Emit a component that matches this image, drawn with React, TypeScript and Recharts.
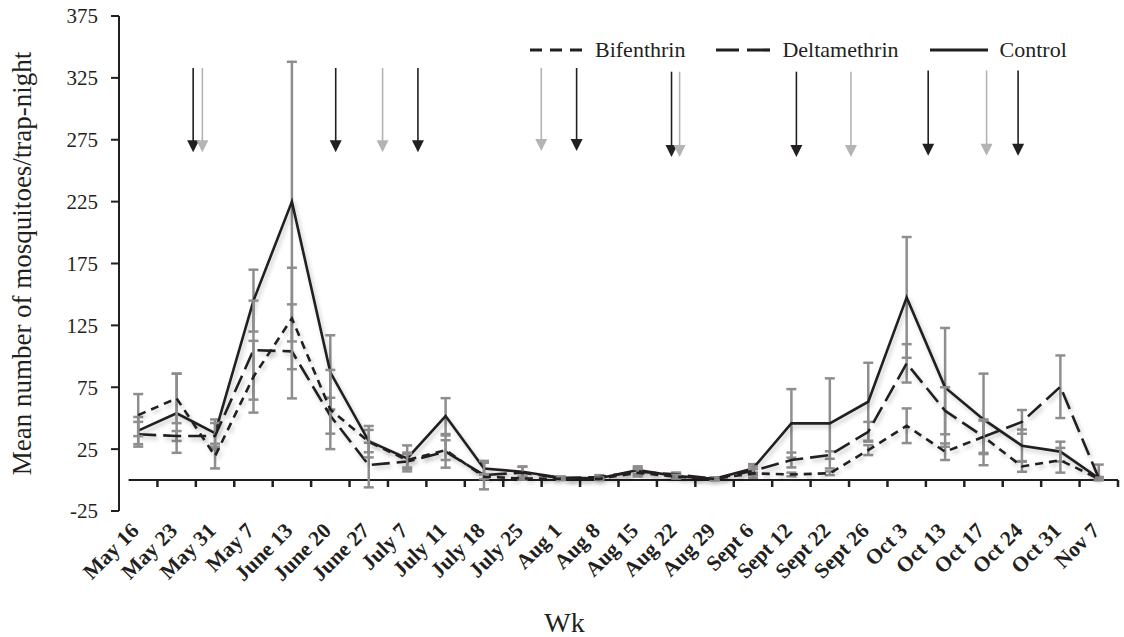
import React from "react";
import {
  LineChart,
  Line,
  XAxis,
  YAxis,
  ErrorBar,
  ReferenceLine,
  Legend,
  Label,
} from "recharts";

const SERIF = "'Liberation Serif', 'Times New Roman', Times, serif";
const INK = "#231f20";
const ERR_GREY = "#8e8e8e";
const ARROW_GREY = "#b4b4b4";

const weeks = [
  "May 16", "May 23", "May 31", "May 7", "June 13", "June 20", "June 27",
  "July 7", "July 11", "July 18", "July 25", "Aug 1", "Aug 8", "Aug 15",
  "Aug 22", "Aug 29", "Sept 6", "Sept 12", "Sept 22", "Sept 26", "Oct 3",
  "Oct 13", "Oct 17", "Oct 24", "Oct 31", "Nov 7",
];

const control = [40, 54, 38, 145, 225, 87, 31.5, 17.5, 51.7, 9.4, 6.7, 1.9, 1.5, 8.1, 3.2, 1, 9.4, 45.8, 45.8, 63.3, 147.6, 74.9, 49, 27.8, 23, 1.5];
const controlErr = [11, 32, 11, 25, 113, 30, 9, 10.5, 14.5, 4.6, 4, 1, 1, 3, 1.5, 1, 3.5, 27.7, 36.4, 31.5, 48.8, 48, 37, 13, 8, 1];

const bifenthrin = [52.5, 66, 19.4, 83.5, 130.6, 57, 31, 16.2, 24.2, 2.7, 1.3, 1, 1, 5.9, 2.7, 1, 5.4, 4.5, 5.5, 24.2, 43.9, 22.9, 35, 11, 16, 1];
const bifenthrinErr = [17, 20, 10, 29, 41, 32, 12.7, 6, 8, 2, 1, 1, 1, 3, 1.5, 1, 3.5, 1.5, 1.5, 4, 14, 6.7, 13, 4.3, 10, 1];

const deltamethrin = [37, 35.6, 35.6, 105, 104, 52, 12.1, 15, 23, 4, 6, 1.5, 2.5, 6.7, 4.6, 1, 7.5, 16.2, 20.2, 39, 94.3, 56, 35, 47, 75.4, 1.5];
const deltamethrinErr: (number | number[])[] = [10, 4, 10.5, 40, 38, 14.5, 18, 6, 13, 11.5, 5, 1, 1.5, 3, 1.5, 1, 3.5, 6, 3, 8, 15.5, 19, 14, 9.6, 25.3, [1.5, 11]];

// treatment arrows: position on the week axis, shade, top and tip values
const arrowAt = [1.43, 1.67, 5.14, 6.36, 7.28, 10.49, 11.41, 13.88, 14.09, 17.13, 18.55, 20.56, 22.08, 22.9];
const arrowShade = ["black", "grey", "black", "grey", "black", "grey", "black", "black", "grey", "black", "grey", "black", "grey", "black"];
const arrowTop = [333, 333, 333, 333, 333, 333, 333, 330, 330, 330, 330, 331, 331, 331];
const arrowTip = [265, 265, 265, 265, 265, 266, 266, 261, 261, 261, 261, 262, 262, 262];

const yTicks = [-25, 25, 75, 125, 175, 225, 275, 325, 375];

const data = weeks.map((week, i) => ({
  idx: i,
  week,
  control: control[i],
  controlErr: controlErr[i],
  bifenthrin: bifenthrin[i],
  bifenthrinErr: bifenthrinErr[i],
  deltamethrin: deltamethrin[i],
  deltamethrinErr: deltamethrinErr[i],
}));

const legendItems = [
  { name: "Bifenthrin", dash: "12 8", width: 53 },
  { name: "Deltamethrin", dash: "23 8", width: 54 },
  { name: "Control", dash: undefined, width: 58 },
];

const WeekTick = ({ x, y, payload }: any) => {
  const tx = x + 2;
  const ty = y + 21;
  return (
    <text
      x={tx}
      y={ty}
      transform={`rotate(-45, ${tx}, ${ty})`}
      textAnchor="end"
      fontFamily={SERIF}
      fontWeight="bold"
      fontSize={21.5}
      fill={INK}
    >
      {weeks[payload.value]}
    </text>
  );
};

const ArrowShape = (props: any) => {
  const { x1, y1, x2, y2, stroke } = props;
  const head = 12;
  return (
    <g>
      <line x1={x1} y1={y1} x2={x2} y2={y2 - head + 1} stroke={stroke} strokeWidth={1.6} />
      <polygon
        points={`${x2 - 6},${y2 - head} ${x2 + 6},${y2 - head} ${x2},${y2}`}
        fill={stroke}
      />
    </g>
  );
};

const LegendContent = () => (
  <div style={{ display: "flex", alignItems: "center", fontFamily: SERIF, fontSize: 22, color: INK }}>
    {legendItems.map((it) => (
      <div key={it.name} style={{ display: "flex", alignItems: "center", marginRight: 31 }}>
        <svg width={it.width} height={6} style={{ marginRight: 12 }}>
          <line x1={0} y1={3} x2={it.width} y2={3} stroke={INK} strokeWidth={3.2} strokeDasharray={it.dash} />
        </svg>
        <span style={{ lineHeight: "26px" }}>{it.name}</span>
      </div>
    ))}
  </div>
);

export default function App() {
  return (
    <div style={{ position: "absolute", left: 0, top: 0, background: "#fff" }}>
      <style>{`.recharts-line-curve { filter: drop-shadow(2px 3px 2px rgba(0,0,0,0.22)); }`}</style>
      <LineChart width={1124} height={637} data={data} margin={{ top: 16, right: 6, bottom: 0, left: 0 }}>
        <XAxis
          dataKey="idx"
          type="number"
          domain={[-0.5, 25.5]}
          ticks={weeks.map((_, i) => i)}
          interval={0}
          height={126}
          axisLine={false}
          tickLine={false}
          tickSize={0}
          tickMargin={0}
          tick={<WeekTick />}
        >
          <Label
            content={(p: any) => {
              const vb = p.viewBox;
              return (
                <text x={vb.x + vb.width / 2 - 54} y={vb.y + vb.height - 5} textAnchor="middle" fontFamily={SERIF} fontSize={28} fill={INK}>
                  Wk
                </text>
              );
            }}
          />
        </XAxis>
        <YAxis
          type="number"
          domain={[-25, 375]}
          ticks={yTicks}
          interval={0}
          width={119}
          axisLine={{ stroke: INK, strokeWidth: 2 }}
          tickLine={{ stroke: INK, strokeWidth: 2 }}
          tickSize={8}
          tickMargin={13}
          tick={{ fontFamily: SERIF, fontSize: 21, fill: INK }}
          label={{
            value: "Mean number of mosquitoes/trap-night",
            angle: -90,
            position: "insideLeft",
            offset: 21,
            style: { textAnchor: "middle", fontFamily: SERIF, fontSize: 27, fill: INK },
          }}
        />
        <ReferenceLine
          segment={[{ x: -0.25, y: 0 }, { x: 25.5, y: 0 }]}
          stroke={INK}
          strokeWidth={2}
        />
        {weeks.map((_, i) => (
          <ReferenceLine
            key={`tick-${i}`}
            segment={[{ x: i + 0.5, y: 0 }, { x: i + 0.5, y: -5.6 }]}
            stroke={INK}
            strokeWidth={2.5}
          />
        ))}
        {arrowAt.map((ax, i) => (
          <ReferenceLine
            key={`arrow-${i}`}
            segment={[{ x: ax, y: arrowTop[i] }, { x: ax, y: arrowTip[i] }]}
            stroke={arrowShade[i] === "black" ? INK : ARROW_GREY}
            shape={ArrowShape}
          />
        ))}
        <Legend
          layout="horizontal"
          verticalAlign="middle"
          align="center"
          wrapperStyle={{ top: 37, left: 530, width: 590 }}
          content={<LegendContent />}
        />
        <Line
          dataKey="control"
          name="Control"
          stroke={INK}
          strokeWidth={2.6}
          dot={false}
          isAnimationActive={false}
        >
          <ErrorBar dataKey="controlErr" width={5} stroke={ERR_GREY} strokeWidth={2.5} direction="y" />
        </Line>
        <Line
          dataKey="deltamethrin"
          name="Deltamethrin"
          stroke={INK}
          strokeWidth={2.6}
          strokeDasharray="18 7"
          dot={false}
          isAnimationActive={false}
        >
          <ErrorBar dataKey="deltamethrinErr" width={5} stroke={ERR_GREY} strokeWidth={2.5} direction="y" />
        </Line>
        <Line
          dataKey="bifenthrin"
          name="Bifenthrin"
          stroke={INK}
          strokeWidth={2.6}
          strokeDasharray="8 6"
          dot={false}
          isAnimationActive={false}
        >
          <ErrorBar dataKey="bifenthrinErr" width={5} stroke={ERR_GREY} strokeWidth={2.5} direction="y" />
        </Line>
      </LineChart>
    </div>
  );
}
